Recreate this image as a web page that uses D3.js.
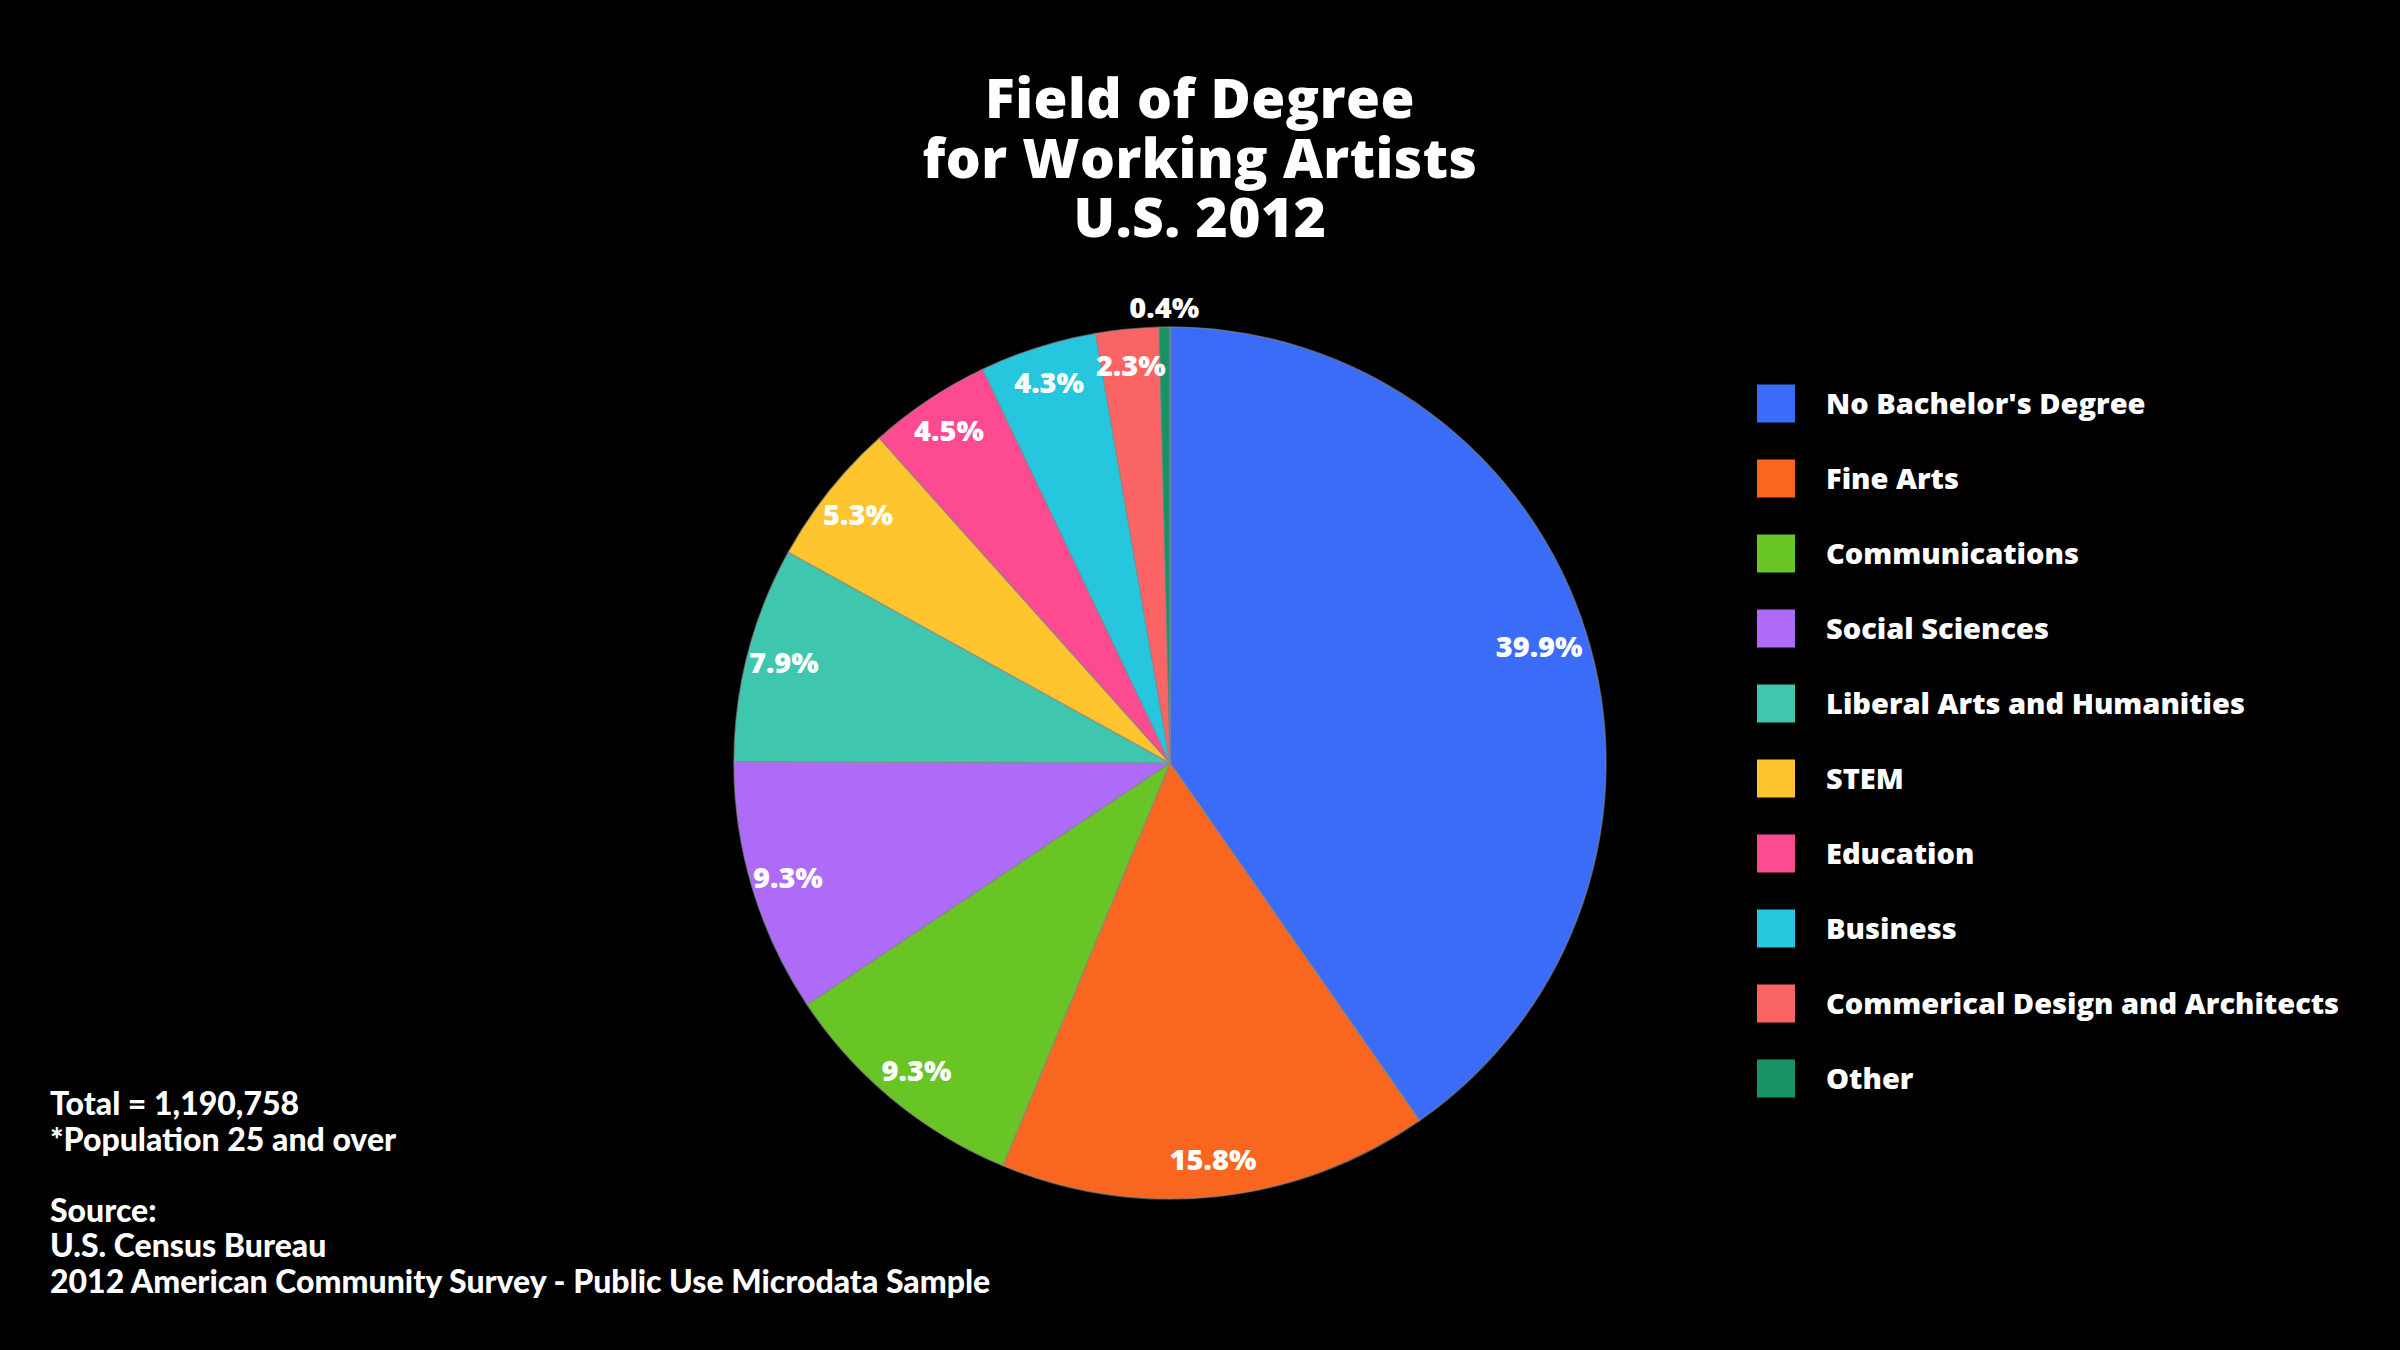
<!DOCTYPE html>
<html>
<head>
<meta charset="utf-8">
<script src="https://cdn.jsdelivr.net/npm/d3@7"></script>
<style>
    html, body { margin: 0; padding: 0; background: #000; }
    #chart { width: 2400px; height: 1350px; }
</style>
</head>
<body>
<div id="chart"></div>
<script>

// Chart data
var categories = [
    "No Bachelor's Degree",
    "Fine Arts",
    "Communications",
    "Social Sciences",
    "Liberal Arts and Humanities",
    "STEM",
    "Education",
    "Business",
    "Commerical Design and Architects",
    "Other"
];
var shares = [39.9, 15.8, 9.3, 9.3, 7.9, 5.3, 4.5, 4.3, 2.3, 0.4];
var colors = ["#3a6cf8", "#f96620", "#69c425", "#ad6bf8", "#3ec6ae",
              "#fec52e", "#fd4a90", "#25c6de", "#fb6464", "#179262"];

var titleLines = ["Field of Degree", "for Working Artists", "U.S. 2012"];
var noteLines = ["Total = 1,190,758", "*Population 25 and over", "",
                 "Source:", "U.S. Census Bureau",
                 "2012 American Community Survey - Public Use Microdata Sample"];

var width = 2400, height = 1350;
var headFont = "'Open Sans', 'DejaVu Sans', sans-serif";
var noteFont = "Lato, 'Open Sans', sans-serif";

var svg = d3.select("#chart")
    .append("svg")
    .attr("width", width)
    .attr("height", height)
    .style("background", "#000");

// Title
svg.append("g")
    .attr("class", "title")
    .selectAll("text")
    .data(titleLines)
    .enter().append("text")
    .attr("x", width / 2)
    .attr("y", (d, i) => 118 + i * 59.5)
    .attr("text-anchor", "middle")
    .attr("fill", "#fff")
    .style("font-family", headFont)
    .style("font-weight", 800)
    .style("font-size", "55px")
    .style("letter-spacing", "0.5px")
    .text(d => d);

// Pie
var cx = 1170, cy = 763, radius = 436;

var pie = d3.pie().sort(null).value(d => d.share);
var arc = d3.arc().innerRadius(0).outerRadius(radius);
var labelArc = d3.arc().innerRadius(radius * 0.915).outerRadius(radius * 0.915);
var outerArc = d3.arc().innerRadius(radius * 1.045).outerRadius(radius * 1.045);

var slices = pie(categories.map((c, i) => ({ name: c, share: shares[i], color: colors[i] })));

var g = svg.append("g")
    .attr("transform", `translate(${cx},${cy})`);

g.selectAll("path")
    .data(slices)
    .enter().append("path")
    .attr("d", arc)
    .attr("fill", d => d.data.color)
    .attr("stroke", "rgba(140,140,140,0.55)")
    .attr("stroke-width", 1.5);

var fmt = d3.format(".1f");

g.selectAll("text")
    .data(slices)
    .enter().append("text")
    .attr("transform", d => {
        // very thin slices get their label outside the rim
        var a = (d.endAngle - d.startAngle) < 0.05 ? outerArc : labelArc;
        var [x, y] = a.centroid(d);
        // the big slice label sits a touch further in
        if (d.endAngle - d.startAngle > Math.PI * 0.6) { x *= 0.97; y *= 0.97; }
        return `translate(${x},${y})`;
    })
    .attr("text-anchor", "middle")
    .attr("dy", "0.36em")
    .attr("fill", "#fff")
    .style("font-family", headFont)
    .style("font-weight", 800)
    .style("font-size", "29px")
    .text(d => fmt(d.data.share) + "%");

// Legend
var legendY = d3.scaleBand()
    .domain(categories)
    .range([366, 1116])
    .paddingInner(0);

var legend = svg.append("g")
    .attr("class", "legend")
    .selectAll("g")
    .data(categories)
    .enter().append("g")
    .attr("transform", d => `translate(1757,${legendY(d) + legendY.bandwidth() / 2})`);

legend.append("rect")
    .attr("x", 0)
    .attr("y", -19)
    .attr("width", 38)
    .attr("height", 38)
    .attr("fill", (d, i) => colors[i]);

legend.append("text")
    .attr("x", 69)
    .attr("dy", "0.36em")
    .attr("fill", "#fff")
    .style("font-family", headFont)
    .style("font-weight", 800)
    .style("font-size", "29px")
    .text(d => d);

// Footnote / source
svg.append("g")
    .attr("class", "notes")
    .selectAll("text")
    .data(noteLines)
    .enter().append("text")
    .attr("x", 50)
    .attr("y", (d, i) => 1115 + i * 35.5)
    .attr("fill", "#fff")
    .style("font-family", noteFont)
    .style("font-weight", 900)
    .style("font-size", "32px")
    .text(d => d);

</script>
</body>
</html>
